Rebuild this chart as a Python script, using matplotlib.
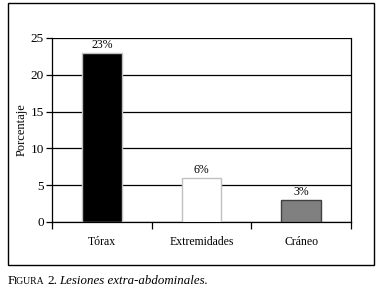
import matplotlib
matplotlib.use("Agg")
import matplotlib.pyplot as plt
from matplotlib.patches import Rectangle

plt.rcParams.update({
    "font.family": "Liberation Serif",
    "font.size": 8.5,
})

categories = ["Tórax", "Extremidades", "Cráneo"]
values = [23, 6, 3]
labels = ["23%", "6%", "3%"]
fills = ["#000000", "#ffffff", "#808080"]
edges = ["#c0c0c0", "#c0c0c0", "#404040"]

W, H = 389, 298
fig = plt.figure(figsize=(W / 100, H / 100), dpi=100)

# outer frame around the chart
fig.patches.append(Rectangle((8 / W, 1 - 265 / H), 366 / W, 262 / H,
                             transform=fig.transFigure, fill=False,
                             edgecolor="black", linewidth=1.0))

ax = fig.add_axes([52 / W, 1 - 222 / H, 299 / W, 184 / H])
x = range(len(categories))
ax.bar(x, values, width=0.4, color=fills, edgecolor=edges,
       linewidth=1.0, zorder=3)
for xi, v, lab in zip(x, values, labels):
    ax.text(xi, v + 0.3, lab, ha="center", va="bottom", fontsize=8.5)

ax.set_xlim(-0.5, 2.5)
ax.set_ylim(0, 25)
ax.set_yticks([0, 5, 10, 15, 20, 25])
ax.yaxis.grid(True, color="black", linewidth=0.9, zorder=0)
ax.set_axisbelow(True)

ax.set_xticks([-0.5, 0.5, 1.5, 2.5])
ax.set_xticklabels([])
ax.set_xticks(list(x), minor=True)
ax.set_xticklabels(categories, minor=True)
ax.tick_params(axis="x", which="major", direction="out", length=5, width=0.9)
ax.tick_params(axis="x", which="minor", length=0, pad=10, labelsize=8.5)
ax.tick_params(axis="y", direction="out", length=4, width=0.9,
               labelsize=9.5, pad=2)

ax.spines["top"].set_visible(False)
ax.spines["left"].set_linewidth(0.9)
ax.spines["bottom"].set_linewidth(0.9)
ax.spines["right"].set_linewidth(0.9)
ax.set_ylabel("Porcentaje", fontsize=9, labelpad=2)

# caption with small caps "FIGURA"
cy = 1 - 284 / H
fig.text(8 / W, cy, "F", fontsize=9.5, va="baseline")
fig.text(14 / W, cy, "IGURA", fontsize=7, va="baseline")
fig.text(47 / W, cy, "2.", fontsize=9.5, va="baseline")
fig.text(59 / W, cy, "Lesiones extra-abdominales.", fontsize=9.3,
         style="italic", va="baseline")

fig.savefig("out.png", dpi=100)
